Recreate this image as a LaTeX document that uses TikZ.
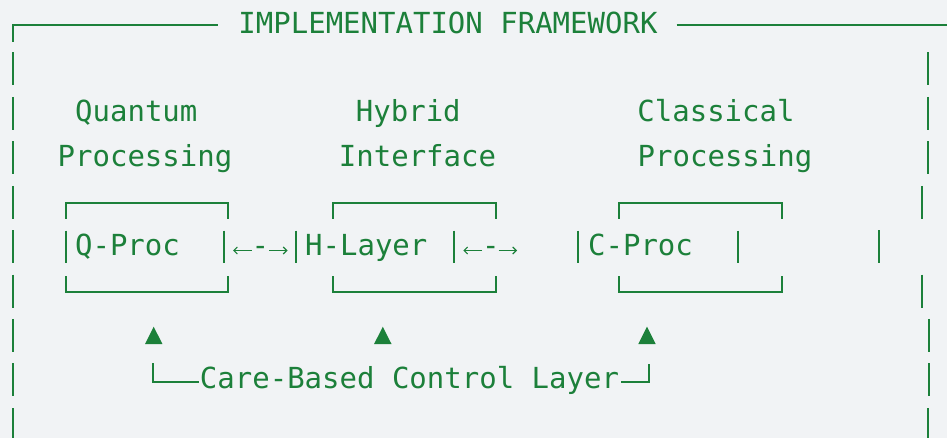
\documentclass[tikz,border=0pt]{standalone}
\usepackage{fontspec}
\setmonofont{DejaVu Sans Mono}
\usetikzlibrary{arrows.meta}
\definecolor{ink}{RGB}{28,128,58}
\definecolor{paper}{RGB}{241,243,245}
\begin{document}
\begin{tikzpicture}[x=1pt,y=-1pt,
  txt/.style={text=ink,font=\ttfamily\fontsize{29}{35}\selectfont,inner sep=0pt,anchor=base},
  rule/.style={draw=ink,line width=2pt},
  bar/.style={draw=ink,line width=2.2pt},
  tiny/.style={draw=ink,line width=1.1pt,-{Straight Barb[length=3.5pt,width=7pt]}},
  tri/.style={fill=ink}]
\fill[paper] (0,0) rectangle (947,438);
\useasboundingbox (0,0) rectangle (947,438);

% outer frame: top rule with the title set into it
\node[txt] (title) at (448,33.3) {IMPLEMENTATION FRAMEWORK};
\coordinate (tl) at (12.7,25);
\coordinate (tlEnd) at (218.3,25);
\coordinate (trStart) at (676.7,25);
\coordinate (tr) at (947,25);
\draw[rule] (12.7,41.7) -- (tl) -- (tlEnd);
\draw[rule] (trStart) -- (tr);

% left frame: one bar per text row
\foreach \b in {77.5,122,166.5,210.8,255.2,299.5,343.8,388.1}
  \draw[bar] (12.7,\b-25) -- (12.7,\b+8);
\draw[bar] (12.7,408) -- (12.7,438);

% right frame: the bars drift from row to row
\foreach \b/\x in {77.5/927.7,122/927.7,166.5/927.7,210.8/922.3,255.2/879,
                   299.5/922.3,343.8/929,388.1/929}
  \draw[bar] (\x,\b-25) -- (\x,\b+8);
\draw[bar] (928,408) -- (928,438);

% column headings
\node[txt] (qh1) at (136.3,122) {Quantum};
\node[txt] (qh2) at (145,166.5) {Processing};
\node[txt] (hh1) at (408.3,122) {Hybrid};
\node[txt] (hh2) at (417.5,166.5) {Interface};
\node[txt] (ch1) at (716,122) {Classical};
\node[txt] (ch2) at (725,166.5) {Processing};

% box tops
\draw[rule] (65.7,219) -- (65.7,203.3) -- (227.7,203.3) -- (227.7,219);
\draw[rule] (333.3,219) -- (333.3,203.3) -- (496,203.3) -- (496,219);
\draw[rule] (619,219) -- (619,203.3) -- (781.7,203.3) -- (781.7,219);
% box bottoms
\draw[rule] (65.7,276) -- (65.7,291.7) -- (227.7,291.7) -- (227.7,276);
\draw[rule] (333.3,276) -- (333.3,291.7) -- (496,291.7) -- (496,276);
\draw[rule] (619,276) -- (619,291.7) -- (781.7,291.7) -- (781.7,276);

% box rows: side bars and labels
\foreach \x in {65.7,224,295.7,454.3,578.3,737.7}
  \draw[bar] (\x,230.7) -- (\x,262.7);
\node[txt] (qp) at (127.5,255.2) {Q-Proc};
\node[txt] (hl) at (366.3,255.2) {H-Layer};
\node[txt] (cp) at (640.5,255.2) {C-Proc};

% links between the boxes
\coordinate (l1a) at (251.7,250.5); \coordinate (l1b) at (233,250.5);
\coordinate (l1c) at (269,250.5);   \coordinate (l1d) at (287.5,250.5);
\draw[tiny] (l1a) -- (l1b);
\node[txt] (d1) at (260.3,255.2) {-};
\draw[tiny] (l1c) -- (l1d);
\coordinate (l2a) at (482,250.5);   \coordinate (l2b) at (463.3,250.5);
\coordinate (l2c) at (498.5,250.5); \coordinate (l2d) at (517,250.5);
\draw[tiny] (l2a) -- (l2b);
\node[txt] (d2) at (490.8,255.2) {-};
\draw[tiny] (l2c) -- (l2d);

% control markers
\foreach \x in {153.7,382.8,647}
  \fill[tri] (\x-8.7,344) -- (\x+8.7,344) -- (\x,326.7) -- cycle;

% control layer bracket
\node[txt] (ctl) at (409.5,388.1) {Care-Based Control Layer};
\coordinate (cl) at (152.7,363.3);
\coordinate (cr) at (649,364.3);
\draw[rule] (cl) -- (152.7,381.7) -- (199,381.7);
\draw[rule] (621,381.7) -- (649,381.7) -- (cr);
\end{tikzpicture}
\end{document}
